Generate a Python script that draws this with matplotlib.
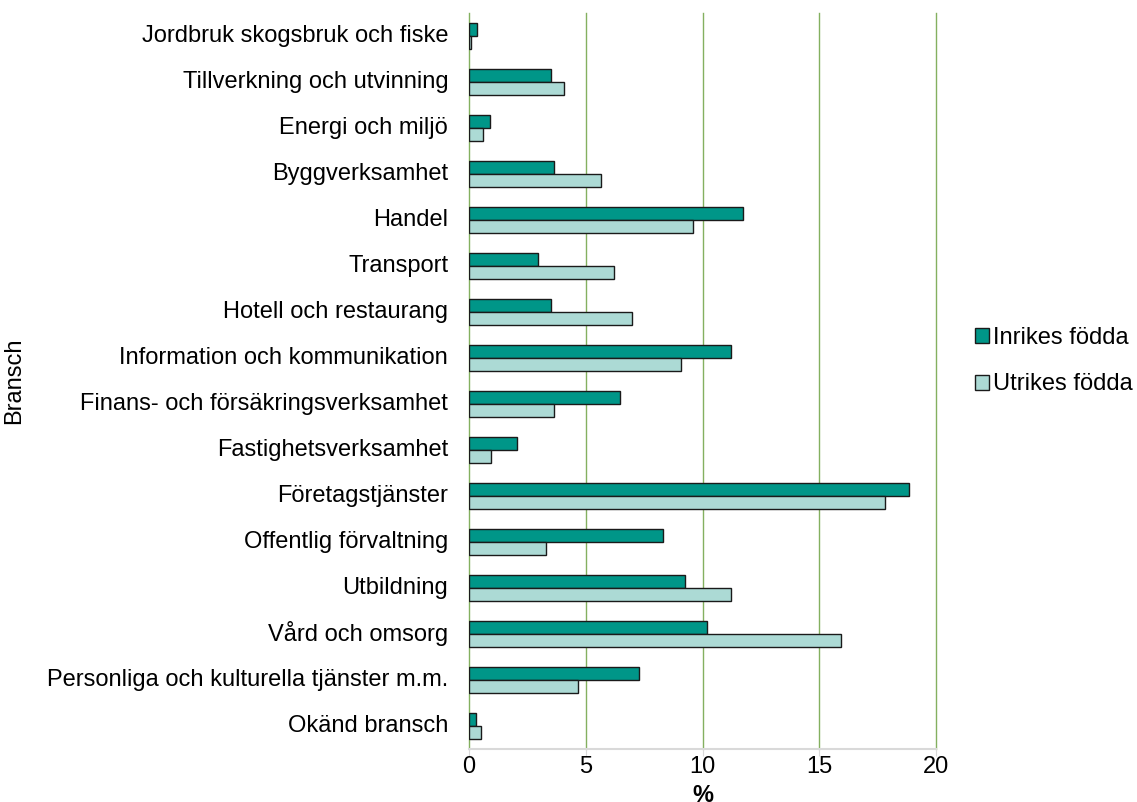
import numpy as np
import matplotlib.pyplot as plt
from matplotlib.patches import Patch

plt.rcParams['font.family'] = ['Liberation Sans', 'DejaVu Sans']

branscher = ["Jordbruk skogsbruk och fiske", "Tillverkning och utvinning", "Energi och miljö",
             "Byggverksamhet", "Handel", "Transport", "Hotell och restaurang",
             "Information och kommunikation", "Finans- och försäkringsverksamhet",
             "Fastighetsverksamhet", "Företagstjänster", "Offentlig förvaltning",
             "Utbildning", "Vård och omsorg", "Personliga och kulturella tjänster m.m.",
             "Okänd bransch"]
inrikes = [0.35, 3.5, 0.9, 3.65, 11.75, 2.95, 3.5, 11.2, 6.45, 2.05, 18.85, 8.3, 9.25, 10.2, 7.3, 0.3]
utrikes = [0.1, 4.05, 0.6, 5.65, 9.6, 6.2, 7.0, 9.1, 3.65, 0.95, 17.8, 3.3, 11.2, 15.95, 4.65, 0.5]

c_in = "#009688"
c_ut = "#acdad5"
grid_c = "#84b060"
fs = 17

fig = plt.figure(figsize=(11.37, 8.02), dpi=100)
ax = fig.add_axes([469/1137, 1-749/802, (936-469)/1137, (749-13)/802])

y = np.arange(len(branscher))
h = 0.285
ax.barh(y - h/2, inrikes, height=h, color=c_in, edgecolor="#1a1a1a", linewidth=1, zorder=3)
ax.barh(y + h/2, utrikes, height=h, color=c_ut, edgecolor="#1a1a1a", linewidth=1, zorder=3)

ax.set_xlim(0, 20)
ax.set_ylim(len(branscher) - 0.5, -0.5)
ax.set_xticks([0, 5, 10, 15, 20])
ax.set_yticks(y)
ax.set_yticklabels(branscher, fontsize=fs, va="center")
ax.tick_params(axis="y", length=0, pad=15)
ax.tick_params(axis="x", labelsize=fs, length=5, color="#d9d9d9", pad=0)
for xv in [0, 5, 10, 15, 20]:
    ax.axvline(xv, color=grid_c, linewidth=1, zorder=1, clip_on=False)

for s in ["top", "right", "left"]:
    ax.spines[s].set_visible(False)
ax.spines["bottom"].set_color("#d9d9d9")
ax.spines["bottom"].set_linewidth(1.5)
ax.spines["bottom"].set_zorder(4)

ax.set_xlabel("%", fontsize=fs, fontweight="bold", labelpad=4)
fig.text(14/1137, 1-381/802, "Bransch", rotation=90, fontsize=fs, ha="center", va="center")

handles = [Patch(facecolor=c_in, edgecolor="#1a1a1a", label="Inrikes födda"),
           Patch(facecolor=c_ut, edgecolor="#1a1a1a", label="Utrikes födda")]
fig.legend(handles=handles, loc="center left", bbox_to_anchor=(975/1137, 1-361/802),
           frameon=False, fontsize=fs, handlelength=0.6, handleheight=0.6,
           handletextpad=0.15, labelspacing=1.05, borderpad=0, borderaxespad=0)

fig.savefig("out.png", dpi=100)
